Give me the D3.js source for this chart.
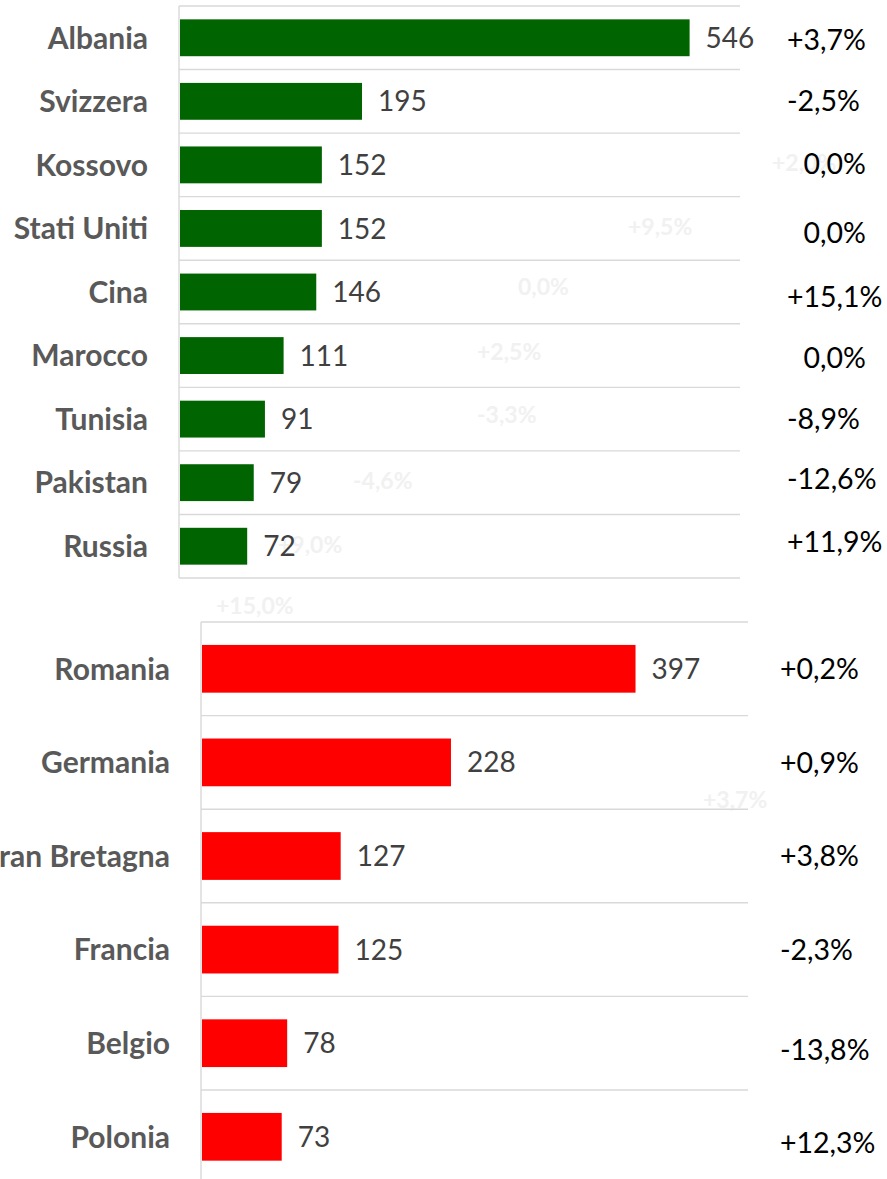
<!DOCTYPE html>
<html>
<head>
<meta charset="utf-8">
<script src="https://cdn.jsdelivr.net/npm/d3@7"></script>
<style>
  body { margin: 0; background: #fff; }
  svg { display: block; font-family: Lato, "Open Sans", sans-serif; }
</style>
</head>
<body>
<svg id="chart" width="887" height="1179"></svg>
<script>
// data
const topCategories = ["Albania", "Svizzera", "Kossovo", "Stati Uniti", "Cina", "Marocco", "Tunisia", "Pakistan", "Russia"];
const topValues = [546, 195, 152, 152, 146, 111, 91, 79, 72];
const topChanges = ["+3,7%", "-2,5%", "0,0%", "0,0%", "+15,1%", "0,0%", "-8,9%", "-12,6%", "+11,9%"];

const bottomCategories = ["Romania", "Germania", "Gran Bretagna", "Francia", "Belgio", "Polonia"];
const bottomValues = [397, 228, 127, 125, 78, 73];
const bottomChanges = ["+0,2%", "+0,9%", "+3,8%", "-2,3%", "-13,8%", "+12,3%"];

// faint leftover labels visible in the background of the picture
const ghostLabels = ["+2,0%", "+9,5%", "0,0%", "+2,5%", "-3,3%", "-4,6%", "+9,0%", "+15,0%", "+3,7%"];

// layout (pixels)
const ghostPos = [[772, 163], [628, 227], [518, 287], [477, 352], [477, 415], [353, 481], [278, 545], [216, 606], [703, 800]];
// the change text boxes are not exactly centred on their rows
const topChgShift = [2, -1, -1, 4, 5, 2, 0, -4, -4];
const bottomChgShift = [0, 0, 0, 0, 7, 6];

const svg = d3.select("#chart");

// ghost labels go first so everything else sits on top
svg.append("g").selectAll("text")
  .data(ghostLabels)
  .enter()
  .append("text")
  .attr("x", (d, i) => ghostPos[i][0])
  .attr("y", (d, i) => ghostPos[i][1])
  .attr("dy", "0.36em")
  .style("font-size", "23px")
  .style("font-weight", "bold")
  .attr("fill", "#f1f1f1")
  .text(d => d);

function drawPanel(cfg) {
  const n = cfg.categories.length;
  const rows = cfg.categories.map((c, i) => ({ cat: c, val: cfg.values[i], chg: cfg.changes[i], shift: cfg.shift[i] }));

  const x = d3.scaleLinear().domain(cfg.xDomain).range([cfg.x0, cfg.x1]);
  const y = d3.scaleBand()
    .domain(cfg.categories)
    .range([cfg.y0, cfg.y1])
    .paddingInner(cfg.pad)
    .paddingOuter(cfg.pad / 2);
  const step = y.step();
  const mid = d => y(d.cat) + y.bandwidth() / 2;
  const g = svg.append("g");

  // horizontal gridlines between rows
  g.selectAll(".grid")
    .data(d3.range(n + 1))
    .enter()
    .append("line")
    .attr("x1", cfg.x0 - 1)
    .attr("x2", cfg.x1)
    .attr("y1", i => cfg.y0 + i * step)
    .attr("y2", i => cfg.y0 + i * step)
    .attr("stroke", "#d9d9d9")
    .attr("stroke-width", 1.4);

  // vertical axis line
  g.append("line")
    .attr("x1", cfg.x0 - 1).attr("x2", cfg.x0 - 1)
    .attr("y1", cfg.y0).attr("y2", cfg.y1)
    .attr("stroke", "#d9d9d9")
    .attr("stroke-width", 1.4);

  // bars
  g.selectAll(".bar")
    .data(rows)
    .enter()
    .append("rect")
    .attr("x", x(0))
    .attr("y", d => y(d.cat))
    .attr("width", d => x(d.val) - x(0))
    .attr("height", y.bandwidth())
    .attr("fill", cfg.color);

  // category labels
  g.selectAll(".cat")
    .data(rows)
    .enter()
    .append("text")
    .attr("x", cfg.labelX)
    .attr("y", mid)
    .attr("dy", "0.36em")
    .attr("text-anchor", "end")
    .style("font-size", "30px")
    .style("font-weight", "bold")
    .attr("fill", "#595959")
    .text(d => d.cat);

  // value labels
  g.selectAll(".val")
    .data(rows)
    .enter()
    .append("text")
    .attr("x", d => x(d.val) + 16)
    .attr("y", mid)
    .attr("dy", "0.36em")
    .style("font-size", "28px")
    .attr("fill", "#404040")
    .text(d => d.val);

  // change labels, unsigned ones shifted by the width of a sign
  g.selectAll(".chg")
    .data(rows)
    .enter()
    .append("text")
    .attr("x", cfg.chgX)
    .attr("dx", d => /^[+-]/.test(d.chg) ? 0 : "0.58em")
    .attr("y", d => mid(d) + d.shift)
    .attr("dy", "0.36em")
    .style("font-size", "28.5px")
    .attr("fill", "#000")
    .text(d => d.chg);
}

drawPanel({
  categories: topCategories, values: topValues, changes: topChanges, shift: topChgShift,
  xDomain: [0, 600], x0: 180, x1: 740,
  y0: 6, y1: 578, pad: 0.42,
  color: "#006400", labelX: 148, chgX: 787
});

drawPanel({
  categories: bottomCategories, values: bottomValues, changes: bottomChanges, shift: bottomChgShift,
  xDomain: [0, 500], x0: 202, x1: 748,
  y0: 622, y1: 1183.6, pad: 0.49,
  color: "#ff0000", labelX: 170, chgX: 780
});
</script>
</body>
</html>
